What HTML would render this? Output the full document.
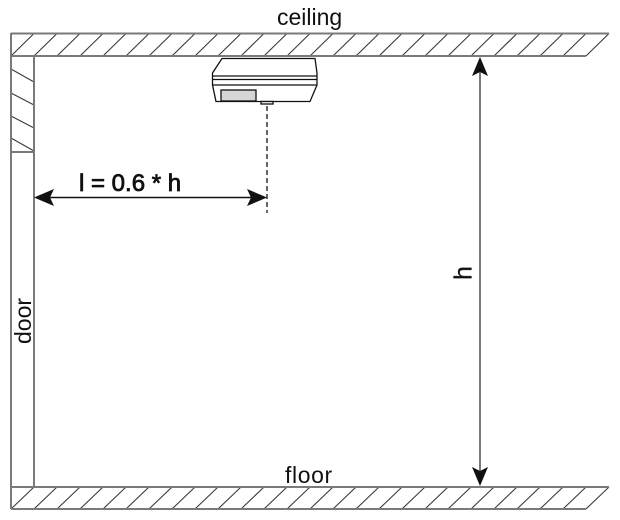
<!DOCTYPE html>
<html>
<head>
<meta charset="utf-8">
<style>
  html, body { margin: 0; padding: 0; background: #ffffff; }
  svg { display: block; }
  text { font-family: "Liberation Sans", Arial, sans-serif; fill: #111; }
</style>
</head>
<body>
<svg width="620" height="520" viewBox="0 0 620 520" xmlns="http://www.w3.org/2000/svg">
  <!-- ceiling label -->
  <text x="277" y="25" font-size="23">ceiling</text>

  <!-- ceiling band -->
  <g stroke="#3a3a3a" stroke-width="1.1" fill="none">
    <line x1="11" y1="56" x2="34" y2="33.5"/>
    <line x1="34" y1="56" x2="57" y2="33.5"/>
    <line x1="57" y1="56" x2="80" y2="33.5"/>
    <line x1="80" y1="56" x2="103" y2="33.5"/>
    <line x1="103" y1="56" x2="126" y2="33.5"/>
    <line x1="126" y1="56" x2="149" y2="33.5"/>
    <line x1="149" y1="56" x2="172" y2="33.5"/>
    <line x1="172" y1="56" x2="195" y2="33.5"/>
    <line x1="195" y1="56" x2="218" y2="33.5"/>
    <line x1="218" y1="56" x2="241" y2="33.5"/>
    <line x1="241" y1="56" x2="264" y2="33.5"/>
    <line x1="264" y1="56" x2="287" y2="33.5"/>
    <line x1="287" y1="56" x2="310" y2="33.5"/>
    <line x1="310" y1="56" x2="333" y2="33.5"/>
    <line x1="333" y1="56" x2="356" y2="33.5"/>
    <line x1="356" y1="56" x2="379" y2="33.5"/>
    <line x1="379" y1="56" x2="402" y2="33.5"/>
    <line x1="402" y1="56" x2="425" y2="33.5"/>
    <line x1="425" y1="56" x2="448" y2="33.5"/>
    <line x1="448" y1="56" x2="471" y2="33.5"/>
    <line x1="471" y1="56" x2="494" y2="33.5"/>
    <line x1="494" y1="56" x2="517" y2="33.5"/>
    <line x1="517" y1="56" x2="540" y2="33.5"/>
    <line x1="540" y1="56" x2="563" y2="33.5"/>
    <line x1="563" y1="56" x2="586" y2="33.5"/>
    <line x1="586" y1="56" x2="609" y2="33.5"/>
  </g>
  <g stroke="#7a7a7a" stroke-width="2" fill="none">
    <line x1="11" y1="33.5" x2="609" y2="33.5"/>
    <line x1="11" y1="56" x2="586" y2="56"/>
  </g>

  <!-- floor band -->
  <g stroke="#3a3a3a" stroke-width="1.1" fill="none">
    <line x1="11" y1="509" x2="34" y2="487"/>
    <line x1="34" y1="509" x2="57" y2="487"/>
    <line x1="57" y1="509" x2="80" y2="487"/>
    <line x1="80" y1="509" x2="103" y2="487"/>
    <line x1="103" y1="509" x2="126" y2="487"/>
    <line x1="126" y1="509" x2="149" y2="487"/>
    <line x1="149" y1="509" x2="172" y2="487"/>
    <line x1="172" y1="509" x2="195" y2="487"/>
    <line x1="195" y1="509" x2="218" y2="487"/>
    <line x1="218" y1="509" x2="241" y2="487"/>
    <line x1="241" y1="509" x2="264" y2="487"/>
    <line x1="264" y1="509" x2="287" y2="487"/>
    <line x1="287" y1="509" x2="310" y2="487"/>
    <line x1="310" y1="509" x2="333" y2="487"/>
    <line x1="333" y1="509" x2="356" y2="487"/>
    <line x1="356" y1="509" x2="379" y2="487"/>
    <line x1="379" y1="509" x2="402" y2="487"/>
    <line x1="402" y1="509" x2="425" y2="487"/>
    <line x1="425" y1="509" x2="448" y2="487"/>
    <line x1="448" y1="509" x2="471" y2="487"/>
    <line x1="471" y1="509" x2="494" y2="487"/>
    <line x1="494" y1="509" x2="517" y2="487"/>
    <line x1="517" y1="509" x2="540" y2="487"/>
    <line x1="540" y1="509" x2="563" y2="487"/>
    <line x1="563" y1="509" x2="586" y2="487"/>
    <line x1="586" y1="509" x2="609" y2="487"/>
  </g>
  <g stroke="#7a7a7a" stroke-width="2" fill="none">
    <line x1="11" y1="487" x2="609" y2="487"/>
    <line x1="11" y1="509" x2="586" y2="509"/>
  </g>

  <!-- left wall -->
  <g stroke="#3a3a3a" stroke-width="1.1" fill="none">
    <line x1="11" y1="69" x2="34" y2="82"/>
    <line x1="11" y1="93" x2="34" y2="105"/>
    <line x1="11" y1="116" x2="34" y2="128"/>
    <line x1="11" y1="138" x2="34" y2="151"/>
  </g>
  <g stroke="#7a7a7a" stroke-width="2" fill="none">
    <line x1="11" y1="33" x2="11" y2="509"/>
    <line x1="34" y1="56" x2="34" y2="487"/>
    <line x1="11" y1="152" x2="34" y2="152"/>
  </g>

  <!-- detector -->
  <g stroke="#111" stroke-width="1.3" fill="#ffffff">
    <path d="M222,58.5 L315,58.5 L317,73 L317,85 L310,101.5 L216,101.5 L212.5,85 L212.5,73 Z"/>
    <line x1="212.5" y1="76" x2="317" y2="76"/>
    <line x1="212.5" y1="79.5" x2="317" y2="79.5"/>
    <line x1="212.5" y1="85" x2="317" y2="85"/>
    <rect x="221" y="90" width="35" height="11" fill="#d6d6d6"/>
    <rect x="261" y="101.5" width="12" height="2.5" fill="#ffffff"/>
  </g>

  <!-- dashed center line -->
  <line x1="267" y1="106" x2="267" y2="213" stroke="#111" stroke-width="1.3" stroke-dasharray="5,3"/>

  <!-- horizontal dimension arrow -->
  <line x1="45" y1="197.5" x2="256" y2="197.5" stroke="#111" stroke-width="1.6"/>
  <path d="M34,197.5 L54,189 L50,197.5 L54,206 Z" fill="#111"/>
  <path d="M267,197.5 L247,189 L251,197.5 L247,206 Z" fill="#111"/>
  <text x="79" y="191" font-size="24" stroke="#111" stroke-width="0.8">l = 0.6 * h</text>

  <!-- vertical dimension arrow -->
  <line x1="480" y1="70" x2="480" y2="472" stroke="#7a7a7a" stroke-width="2"/>
  <path d="M480,57 L472,76 L480,72 L488,76 Z" fill="#111"/>
  <path d="M480,486 L472,467 L480,471 L488,467 Z" fill="#111"/>
  <text transform="translate(471.5,273) rotate(-90)" text-anchor="middle" font-size="25" stroke="#111" stroke-width="0.3">h</text>

  <!-- door label -->
  <text transform="translate(31,321) rotate(-90)" text-anchor="middle" font-size="23">door</text>

  <!-- floor label -->
  <text x="285" y="483" font-size="23" letter-spacing="0.6">floor</text>
</svg>
</body>
</html>
